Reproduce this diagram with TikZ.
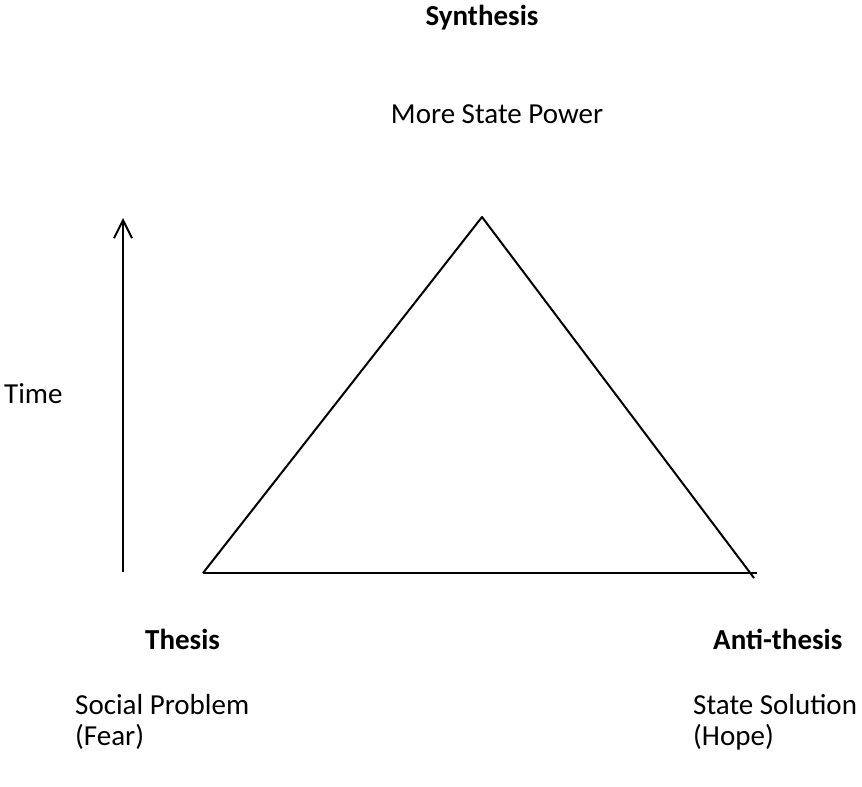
\documentclass[tikz,border=0pt]{standalone}
\usepackage{fontspec}
\setmainfont{Carlito}
\usetikzlibrary{arrows.meta}

\begin{document}
\begin{tikzpicture}[x=1pt, y=-1pt, font=\fontsize{29}{31}\selectfont,
		edge/.style={line width=2pt, black},
		label/.style={anchor=base west, inner sep=0pt, align=left}]
			\useasboundingbox (0,0) rectangle (862,787);
			% triangle corners
			\coordinate (thesis) at (203,573);
			\coordinate (synth) at (482,217);
			\coordinate (anti) at (754,578);
			\coordinate (baseend) at (757,573);
			\draw[edge, line join=round] (thesis) -- (synth) -- (anti);
			\draw[edge] (thesis) -- (baseend);
			% time axis
			\coordinate (tlow) at (123,572);
			\coordinate (thigh) at (123,218);
			\draw[edge, -{Straight Barb[length=18pt, width=18pt]}] (tlow) -- (thigh);
			\node[label] (time) at (4,403) {Time};
			% labels
			\node[label, anchor=base, font=\fontsize{29}{31}\selectfont\bfseries] (synthlbl) at (482,25) {Synthesis};
			\node[label, anchor=base] (power) at (497,123) {More State Power};
			\node[label, font=\fontsize{29}{31}\selectfont\bfseries] (thesislbl) at (145,649) {Thesis};
			\node[label, font=\fontsize{29}{31}\selectfont\bfseries] (antilbl) at (713,649) {Anti-thesis};
			\node[label] (social) at (75,745) {Social Problem\\(Fear)};
			\node[label] (solution) at (693,745) {State Solution\\(Hope)};
		\end{tikzpicture}
\end{document}
